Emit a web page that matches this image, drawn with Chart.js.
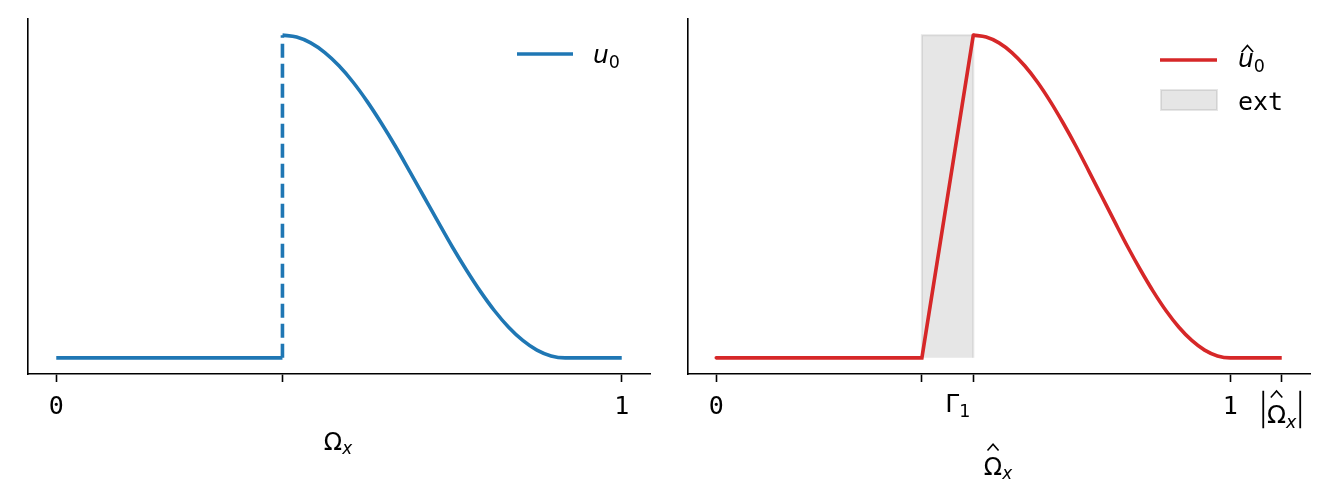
<!DOCTYPE html>
<html>
<head>
<meta charset="utf-8">
<script src="https://cdn.jsdelivr.net/npm/chart.js@4/dist/chart.umd.min.js"></script>
<style>
  html, body { margin: 0; padding: 0; background: #fff; }
  #wrap { position: relative; width: 1329px; height: 502px; }
  canvas { position: absolute; top: 0; }
</style>
</head>
<body>
<div id="wrap">
  <canvas id="left" width="664" height="502" style="left:0"></canvas>
  <canvas id="right" width="665" height="502" style="left:664px"></canvas>
</div>
<script>
// ---- datos ----
// panel izquierdo: u0 en Omega_x
const leftTicks = [0, 0.4, 1];
const leftTickLabels = ["0", "", "1"];
const leftXLabel = "Ωₓ";
const leftLegend = ["u₀"];

const u0FlatX = [0, 0.4];
const u0FlatY = [0, 0];
const u0JumpX = [0.4, 0.4];
const u0JumpY = [0, 1];
const u0CurveX = [0.4, 0.425, 0.45, 0.475, 0.5, 0.525, 0.55, 0.575, 0.6, 0.625, 0.65,
                  0.675, 0.7, 0.725, 0.75, 0.775, 0.8, 0.825, 0.85, 0.875, 0.9, 1.0];
const u0CurveY = [1.000, 0.994, 0.976, 0.946, 0.905, 0.854, 0.794, 0.727, 0.655, 0.578, 0.500,
                  0.422, 0.345, 0.273, 0.206, 0.146, 0.095, 0.054, 0.024, 0.006, 0.000, 0.000];

// panel derecho: u0 extendida en Omega_x gorro
const rightTicks = [0, 0.4, 0.5, 1, 1.1];
const rightTickLabels = ["0", "", "Γ₁", "1", "|Ω̂ₓ|"];
const rightXLabel = "Ω̂ₓ";
const rightLegend = ["û₀", "ext"];

const hatRampX = [0, 0.4, 0.5];
const hatRampY = [0, 0, 1];
const hatCurveX = [0.5, 0.525, 0.55, 0.575, 0.6, 0.625, 0.65, 0.675, 0.7, 0.725, 0.75,
                   0.775, 0.8, 0.825, 0.85, 0.875, 0.9, 0.925, 0.95, 0.975, 1.0, 1.1];
const hatCurveY = [1.000, 0.994, 0.976, 0.946, 0.905, 0.854, 0.794, 0.727, 0.655, 0.578, 0.500,
                   0.422, 0.345, 0.273, 0.206, 0.146, 0.095, 0.054, 0.024, 0.006, 0.000, 0.000];
const extX = [0.4, 0.4, 0.5, 0.5];
const extY = [0, 1, 1, 0];

// ---- estilos ----
const AZUL = "#1f77b4";
const ROJO = "#d62728";
const GRIS = "rgba(128,128,128,0.2)";
const LW = 3.6;
const MONO = '"DejaVu Sans Mono"';
const SANS = '"DejaVu Sans"';

function pts(xs, ys) {
    return xs.map((x, i) => ({ x: x, y: ys[i] }));
}

// convierte "Ω̂ₓ" en piezas: base, subíndice, acento
function parseMath(s) {
    const subs = { "₀": "0", "₁": "1", "ₓ": "x" };
    const parts = [];
    for (const ch of s.normalize("NFD")) {
        if (ch === "\u0302") { parts[parts.length - 1].hat = true; continue; }
        const sub = subs[ch] !== undefined;
        const c = sub ? subs[ch] : ch;
        parts.push({ c: c, sub: sub, it: /[a-z]/i.test(c), hat: false });
    }
    return parts;
}

function partFont(p, size) {
    return (p.it ? "italic " : "") + (p.sub ? size * 0.7 : size) + "px " + SANS;
}

function drawText(ctx, s, x, base, size, align) {
    ctx.save();
    ctx.fillStyle = "#000";
    ctx.textBaseline = "alphabetic";
    if (/^[\x00-\x7f]*$/.test(s)) {
        // texto normal en monoespaciada
        ctx.font = size + "px " + MONO;
        ctx.textAlign = align;
        ctx.fillText(s, x, base);
        ctx.restore();
        return;
    }
    const parts = parseMath(s);
    let total = 0;
    parts.forEach(p => {
        if (p.c === "|") { p.w = size * 0.3; }
        else { ctx.font = partFont(p, size); p.w = ctx.measureText(p.c).width; }
        total += p.w;
    });
    let cx = align === "center" ? x - total / 2 : align === "right" ? x - total : x;
    ctx.textAlign = "left";
    parts.forEach(p => {
        if (p.c === "|") {
            ctx.fillRect(cx + p.w / 2 - 0.9, base - size * 1.29, 1.8, size * 1.5);
        } else {
            ctx.font = partFont(p, size);
            ctx.fillText(p.c, cx, base + (p.sub ? size * 0.18 : 0));
        }
        if (p.hat) {
            const upper = p.c === p.c.toUpperCase();
            const hb = base - (upper ? 1.02 : 0.6) * size;
            const mid = cx + p.w / 2 + (p.it ? 1.5 : 0);
            const hw = size * 0.23, hh = size * 0.26;
            ctx.beginPath();
            ctx.moveTo(mid - hw, hb);
            ctx.lineTo(mid, hb - hh);
            ctx.lineTo(mid + hw, hb);
            ctx.lineWidth = 1.6;
            ctx.strokeStyle = "#000";
            ctx.stroke();
        }
        cx += p.w;
    });
    ctx.restore();
}

// etiquetas, título del eje y leyenda dibujados encima
function overlay(cfg) {
    return {
        id: "overlay",
        afterDraw(chart) {
            const ctx = chart.ctx;
            const area = chart.chartArea;
            const sx = chart.scales.x;
            cfg.ticks.forEach((v, i) => {
                const lab = cfg.labels[i];
                if (!lab) return;
                const px = sx.getPixelForValue(v);
                let base = area.bottom + 40;
                if (/[^\x00-\x7f]/.test(lab)) {
                    base = /[|\u0302]/.test(lab) ? area.bottom + 49 : area.bottom + 38;
                }
                const right = lab.indexOf("Γ") === 0;
                drawText(ctx, lab, right ? px - 3 : px, base, 25, right ? "right" : "center");
            });
            const mid = (area.left + area.right) / 2 - 1;
            drawText(ctx, cfg.xlabel, mid, area.bottom + cfg.xlabelDy, 24, "center");

            cfg.legend.forEach((item, i) => {
                const L = cfg.legendPos[i];
                ctx.save();
                if (item.kind === "line") {
                    ctx.beginPath();
                    ctx.moveTo(area.right - L.x0, area.top + L.y);
                    ctx.lineTo(area.right - L.x1, area.top + L.y);
                    ctx.strokeStyle = item.color;
                    ctx.lineWidth = LW;
                    ctx.stroke();
                } else {
                    ctx.fillStyle = GRIS;
                    ctx.strokeStyle = GRIS;
                    ctx.lineWidth = 2;
                    ctx.fillRect(area.right - L.x0, area.top + L.y - 10, L.x0 - L.x1, 20);
                    ctx.strokeRect(area.right - L.x0, area.top + L.y - 10, L.x0 - L.x1, 20);
                }
                ctx.restore();
                drawText(ctx, item.text, area.right - L.tx, area.top + L.ty, 25, "left");
            });
        }
    };
}

function scalesFor(min, max, ticks) {
    const linea = { display: true, width: 1.6, color: "#000" };
    return {
        x: {
            type: "linear", min: min, max: max,
            border: linea,
            grid: { drawOnChartArea: false, drawTicks: true, tickLength: 8, tickWidth: 1.6, tickColor: "#000" },
            ticks: { display: false },
            afterBuildTicks: s => { s.ticks = ticks.map(v => ({ value: v })); },
            afterFit: s => { s.height = 128; }
        },
        y: {
            type: "linear", min: -0.05, max: 1.05,
            border: linea,
            grid: { drawOnChartArea: false, drawTicks: false },
            ticks: { display: false },
            afterFit: s => { s.width = 0; }
        }
    };
}

const comunes = {
    responsive: false,
    animation: false,
    events: [],
    plugins: { legend: { display: false }, tooltip: { enabled: false } },
    elements: { point: { radius: 0 } }
};

document.addEventListener("DOMContentLoaded", function () {
    new Chart(document.getElementById("left").getContext("2d"), {
        type: "line",
        data: {
            datasets: [
                { data: pts(u0FlatX, u0FlatY), borderColor: AZUL, borderWidth: LW, tension: 0 },
                { data: pts(u0JumpX, u0JumpY), borderColor: AZUL, borderWidth: LW, borderDash: [14, 6], tension: 0 },
                { data: pts(u0CurveX, u0CurveY), borderColor: AZUL, borderWidth: LW, cubicInterpolationMode: "monotone" }
            ]
        },
        options: Object.assign({}, comunes, {
            layout: { padding: { left: 28, right: 14, top: 19, bottom: 0 } },
            scales: scalesFor(-0.05, 1.05, leftTicks)
        }),
        plugins: [overlay({
            ticks: leftTicks, labels: leftTickLabels, xlabel: leftXLabel, xlabelDy: 76,
            legend: [{ kind: "line", color: AZUL, text: leftLegend[0] }],
            legendPos: [{ x0: 133, x1: 77, y: 35, tx: 57, ty: 44 }]
        })]
    });

    new Chart(document.getElementById("right").getContext("2d"), {
        type: "line",
        data: {
            datasets: [
                { data: pts(hatRampX, hatRampY), borderColor: ROJO, borderWidth: LW, tension: 0, borderCapStyle: "round", order: 0 },
                { data: pts(hatCurveX, hatCurveY), borderColor: ROJO, borderWidth: LW, cubicInterpolationMode: "monotone", order: 0 },
                { data: pts(extX, extY), borderColor: GRIS, backgroundColor: GRIS, borderWidth: 2, fill: "origin", tension: 0, order: 1 }
            ]
        },
        options: Object.assign({}, comunes, {
            layout: { padding: { left: 24, right: 19, top: 19, bottom: 0 } },
            scales: scalesFor(-0.055, 1.155, rightTicks)
        }),
        plugins: [overlay({
            ticks: rightTicks, labels: rightTickLabels, xlabel: rightXLabel, xlabelDy: 101,
            legend: [{ kind: "line", color: ROJO, text: rightLegend[0] },
                     { kind: "box", text: rightLegend[1] }],
            legendPos: [{ x0: 150, x1: 93, y: 41, tx: 72, ty: 48 },
                        { x0: 149, x1: 93, y: 81, tx: 72, ty: 91 }]
        })]
    });
});
</script>
</body>
</html>
